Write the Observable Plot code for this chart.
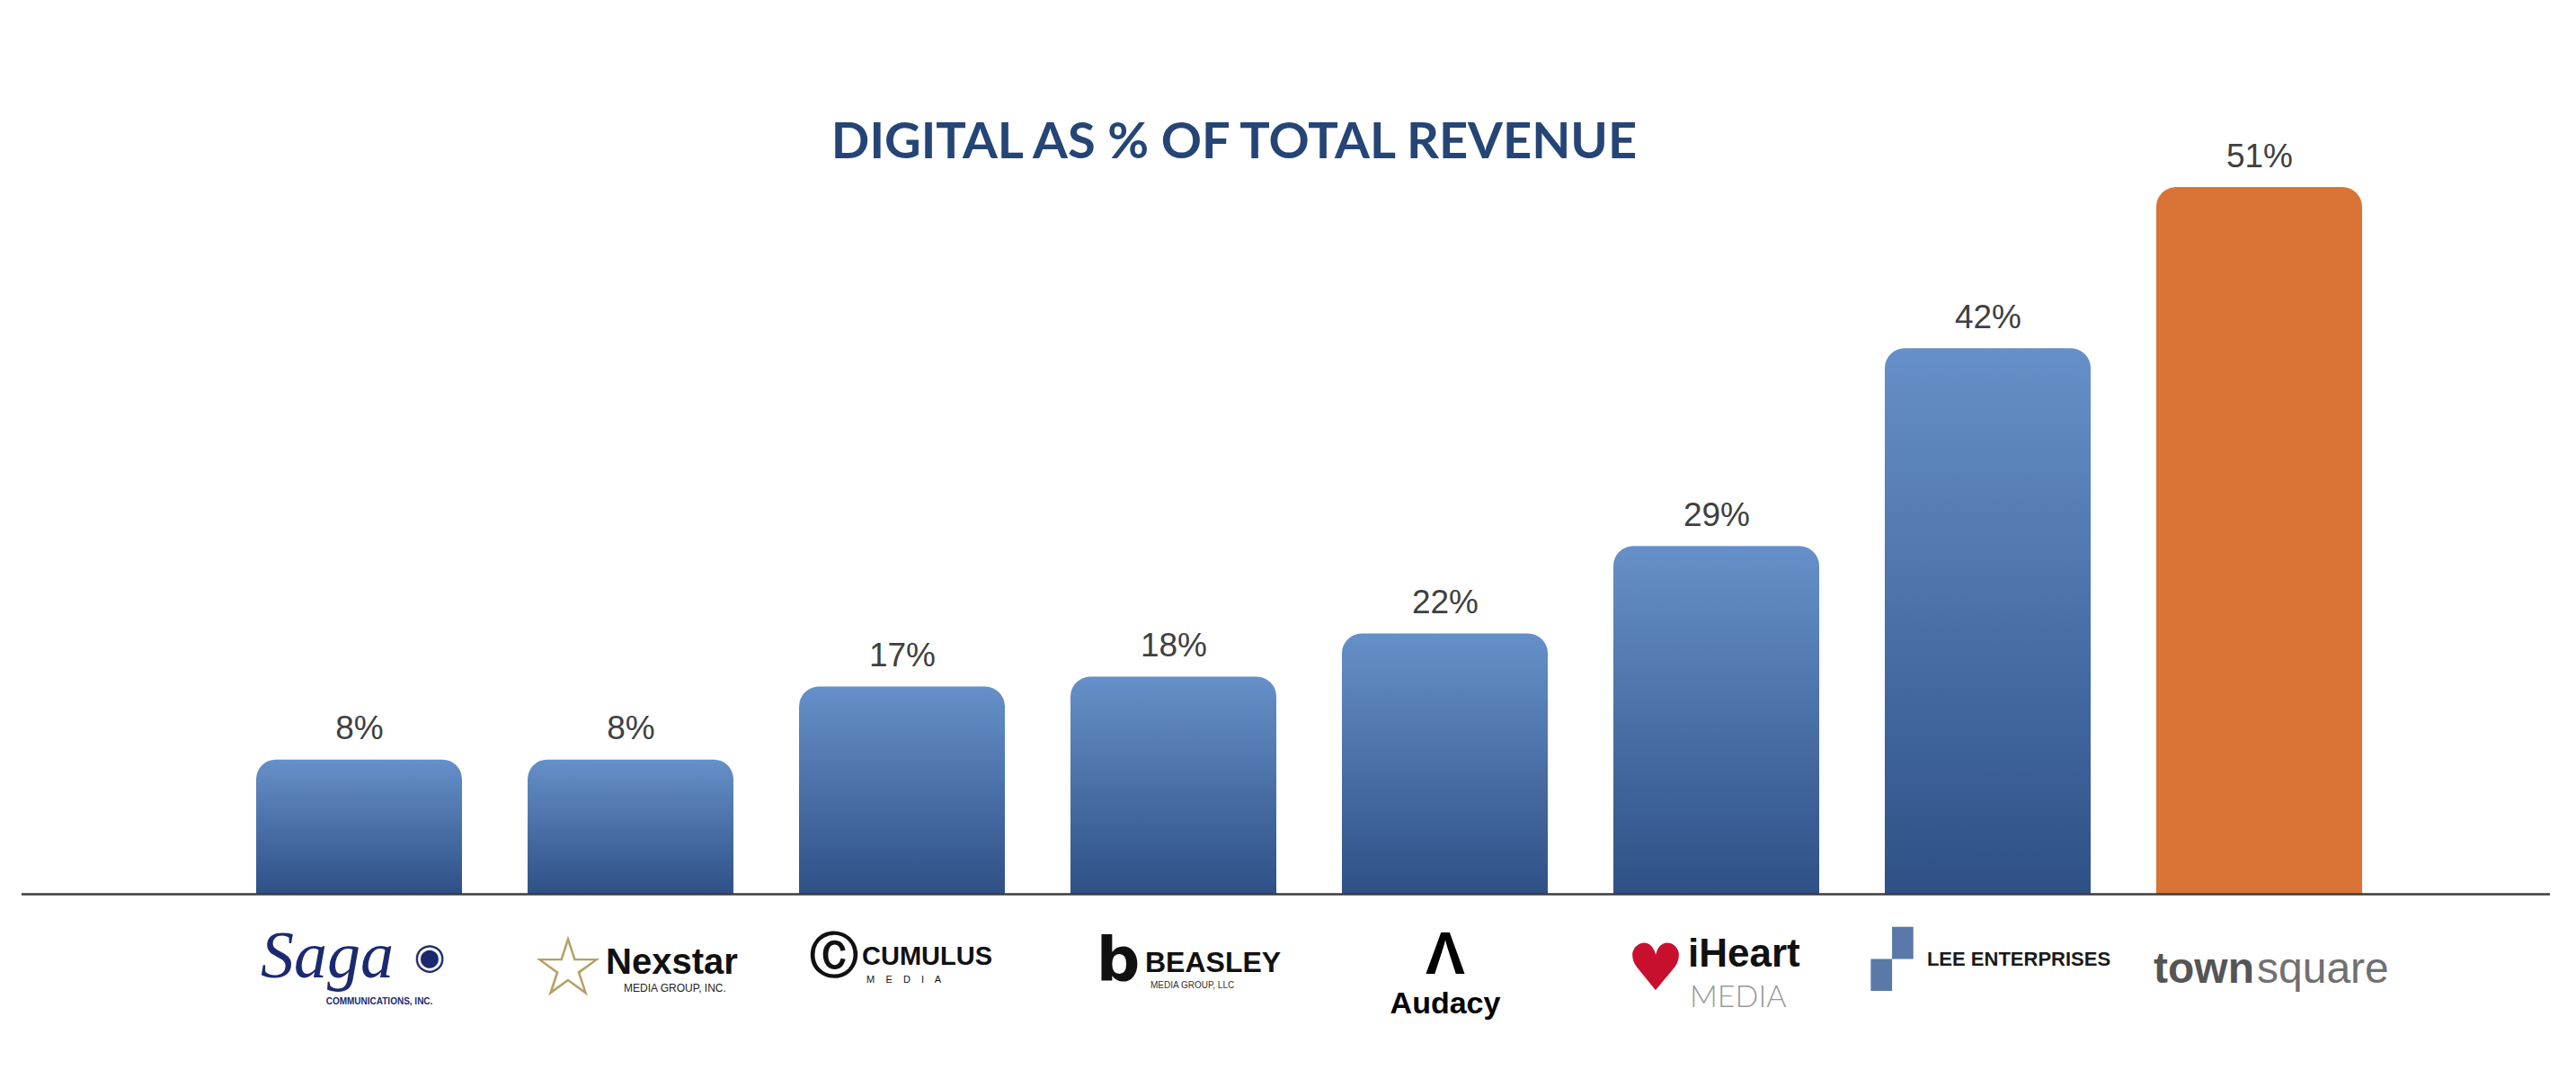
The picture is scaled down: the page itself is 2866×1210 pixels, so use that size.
<!DOCTYPE html>
<html>
<head>
<meta charset="utf-8">
<script src="https://cdn.jsdelivr.net/npm/d3@7"></script>
<script src="https://cdn.jsdelivr.net/npm/@observablehq/plot@0.6"></script>
<style>
  html, body { margin: 0; padding: 0; background: #ffffff; }
  #wrap { position: relative; width: 2866px; height: 1210px; overflow: hidden; }
  #title {
    position: absolute; top: 127px; left: 0; width: 2746px; z-index: 2;
    text-align: center; font-family: Lato, "Open Sans", sans-serif; font-weight: 700;
    font-size: 56px; line-height: 56px; color: #254577; margin: 0;
  }
</style>
</head>
<body>
<div id="wrap">
  <h1 id="title">DIGITAL AS % OF TOTAL REVENUE</h1>
  <div id="chart"></div>
</div>
<script>
// ---- data ----
const companies = ["Saga", "Nexstar", "Cumulus", "Beasley", "Audacy", "iHeart", "Lee", "Townsquare"];
const values = [8, 8, 17, 18, 22, 29, 42, 51];          // digital share of total revenue, %
const valueLabels = ["8%", "8%", "17%", "18%", "22%", "29%", "42%", "51%"];
const highlighted = "Townsquare";

// ---- logo word-marks (text only, drawn under each bar) ----
const logoParts = [
  {c: "Saga", text: "Saga", dx: -36, dy: 92, size: 74, family: "Liberation Serif", weight: "normal", style: "italic", fill: "#1b2a70"},
  {c: "Saga", text: "\u25C9", dx: 78, dy: 82, size: 40, family: "DejaVu Sans", weight: "normal", style: "normal", fill: "#1b2a70"},
  {c: "Saga", text: "COMMUNICATIONS, INC.", dx: 22, dy: 122, size: 10, family: "Liberation Sans", weight: "bold", style: "normal", fill: "#1b2a70"},
  {c: "Nexstar", text: "\u2606", dx: -70, dy: 112, size: 92, family: "DejaVu Sans", weight: "bold", style: "normal", fill: "#b5a165"},
  {c: "Nexstar", text: "Nexstar", dx: -28, dy: 88, size: 40, family: "Liberation Sans", weight: "bold", style: "normal", fill: "#111111", anchor: "start"},
  {c: "Nexstar", text: "MEDIA GROUP, INC.", dx: -8, dy: 108, size: 12, family: "Liberation Sans", weight: "normal", style: "normal", fill: "#222222", anchor: "start"},
  {c: "Cumulus", text: "\u24B8", dx: -76, dy: 86, size: 54, family: "DejaVu Sans", weight: "bold", style: "normal", fill: "#111111"},
  {c: "Cumulus", text: "CUMULUS", dx: -45, dy: 78, size: 29, family: "Liberation Sans", weight: "bold", style: "normal", fill: "#111111", anchor: "start"},
  {c: "Cumulus", text: "M    E    D    I    A", dx: -40, dy: 98, size: 11, family: "Liberation Sans", weight: "normal", style: "normal", fill: "#111111", anchor: "start"},
  {c: "Beasley", text: "b", dx: -62, dy: 96, size: 68, family: "DejaVu Sans", weight: "bold", style: "normal", fill: "#111111"},
  {c: "Beasley", text: "BEASLEY", dx: -32, dy: 86, size: 32, family: "Liberation Sans", weight: "bold", style: "normal", fill: "#111111", anchor: "start"},
  {c: "Beasley", text: "MEDIA GROUP, LLC", dx: -26, dy: 104, size: 10, family: "Liberation Sans", weight: "normal", style: "normal", fill: "#333333", anchor: "start"},
  {c: "Audacy", text: "\u039B", dx: 0, dy: 88, size: 66, family: "Liberation Sans", weight: "bold", style: "normal", fill: "#000000"},
  {c: "Audacy", text: "Audacy", dx: 0, dy: 132, size: 34, family: "Liberation Sans", weight: "bold", style: "normal", fill: "#000000"},
  {c: "iHeart", text: "\u2665", dx: -68, dy: 106, size: 72, family: "DejaVu Sans", weight: "normal", style: "normal", fill: "#c8102e"},
  {c: "iHeart", text: "iHeart", dx: -32, dy: 80, size: 44, family: "Liberation Sans", weight: "bold", style: "normal", fill: "#111111", anchor: "start"},
  {c: "iHeart", text: "MEDIA", dx: -30, dy: 125, size: 34, family: "Lato", weight: "300", style: "normal", fill: "#9a9a9a", anchor: "start"},
  {c: "Lee", text: "\u259E", dx: -107, dy: 92, size: 60, family: "DejaVu Sans", weight: "normal", style: "normal", fill: "#5b79a8"},
  {c: "Lee", text: "LEE ENTERPRISES", dx: 34, dy: 79, size: 22, family: "Liberation Sans", weight: "bold", style: "normal", fill: "#1a1a1a"},
  {c: "Townsquare", text: "town", dx: -6, dy: 98, size: 48, family: "Liberation Sans", weight: "bold", style: "normal", fill: "#555555", anchor: "end"},
  {c: "Townsquare", text: "square", dx: -3, dy: 98, size: 48, family: "Liberation Sans", weight: "normal", style: "normal", fill: "#707070", anchor: "start"}
];

const rows = companies.map((c, i) => ({company: c, value: values[i], label: valueLabels[i]}));
const yFloor = -16.9;   // bottom of the value scale (axis line)

const logoMarks = logoParts.map(p => Plot.text([p], {
  x: "c", text: "text", frameAnchor: "bottom",
  dx: p.dx, dy: p.dy, fontSize: p.size, fontFamily: p.family,
  fontWeight: p.weight, fontStyle: p.style, fill: p.fill,
  textAnchor: p.anchor || "middle", lineAnchor: "bottom"
}));

const chart = Plot.plot({
  width: 2866,
  height: 1210,
  marginTop: 208,
  marginBottom: 216,
  marginLeft: 24,
  marginRight: 29,
  style: {fontFamily: "Liberation Sans, Arial, sans-serif", background: "transparent"},
  x: {domain: companies, paddingInner: 0.2422, paddingOuter: 0.7751, align: 0.555, axis: null},
  y: {type: "pow", exponent: 1.6, domain: [yFloor, 51], axis: null},
  color: {type: "identity"},
  marks: [
    Plot.barY(rows, {
      x: "company", y1: yFloor, y2: "value",
      fill: d => d.company === highlighted ? "#d97436" : "url(#barGrad)",
      ry1: 22
    }),
    Plot.ruleY([yFloor], {stroke: "#3c3c3c", strokeWidth: 2.5}),
    Plot.text(rows, {
      x: "company", y: "value", text: "label", dy: -23, lineAnchor: "bottom",
      fontSize: 37, fontFamily: "Liberation Sans", fill: "#404040"
    }),
    ...logoMarks
  ]
});

// gradient for the blue bars
const ns = "http://www.w3.org/2000/svg";
const defs = document.createElementNS(ns, "defs");
const grad = document.createElementNS(ns, "linearGradient");
grad.setAttribute("id", "barGrad");
grad.setAttribute("x1", "0"); grad.setAttribute("y1", "0");
grad.setAttribute("x2", "0"); grad.setAttribute("y2", "1");
[["0", "#6690c9"], ["1", "#2e5087"]].forEach(([o, c]) => {
  const s = document.createElementNS(ns, "stop");
  s.setAttribute("offset", o); s.setAttribute("stop-color", c);
  grad.appendChild(s);
});
defs.appendChild(grad);
chart.insertBefore(defs, chart.firstChild);

document.getElementById("chart").appendChild(chart);
</script>
</body>
</html>
